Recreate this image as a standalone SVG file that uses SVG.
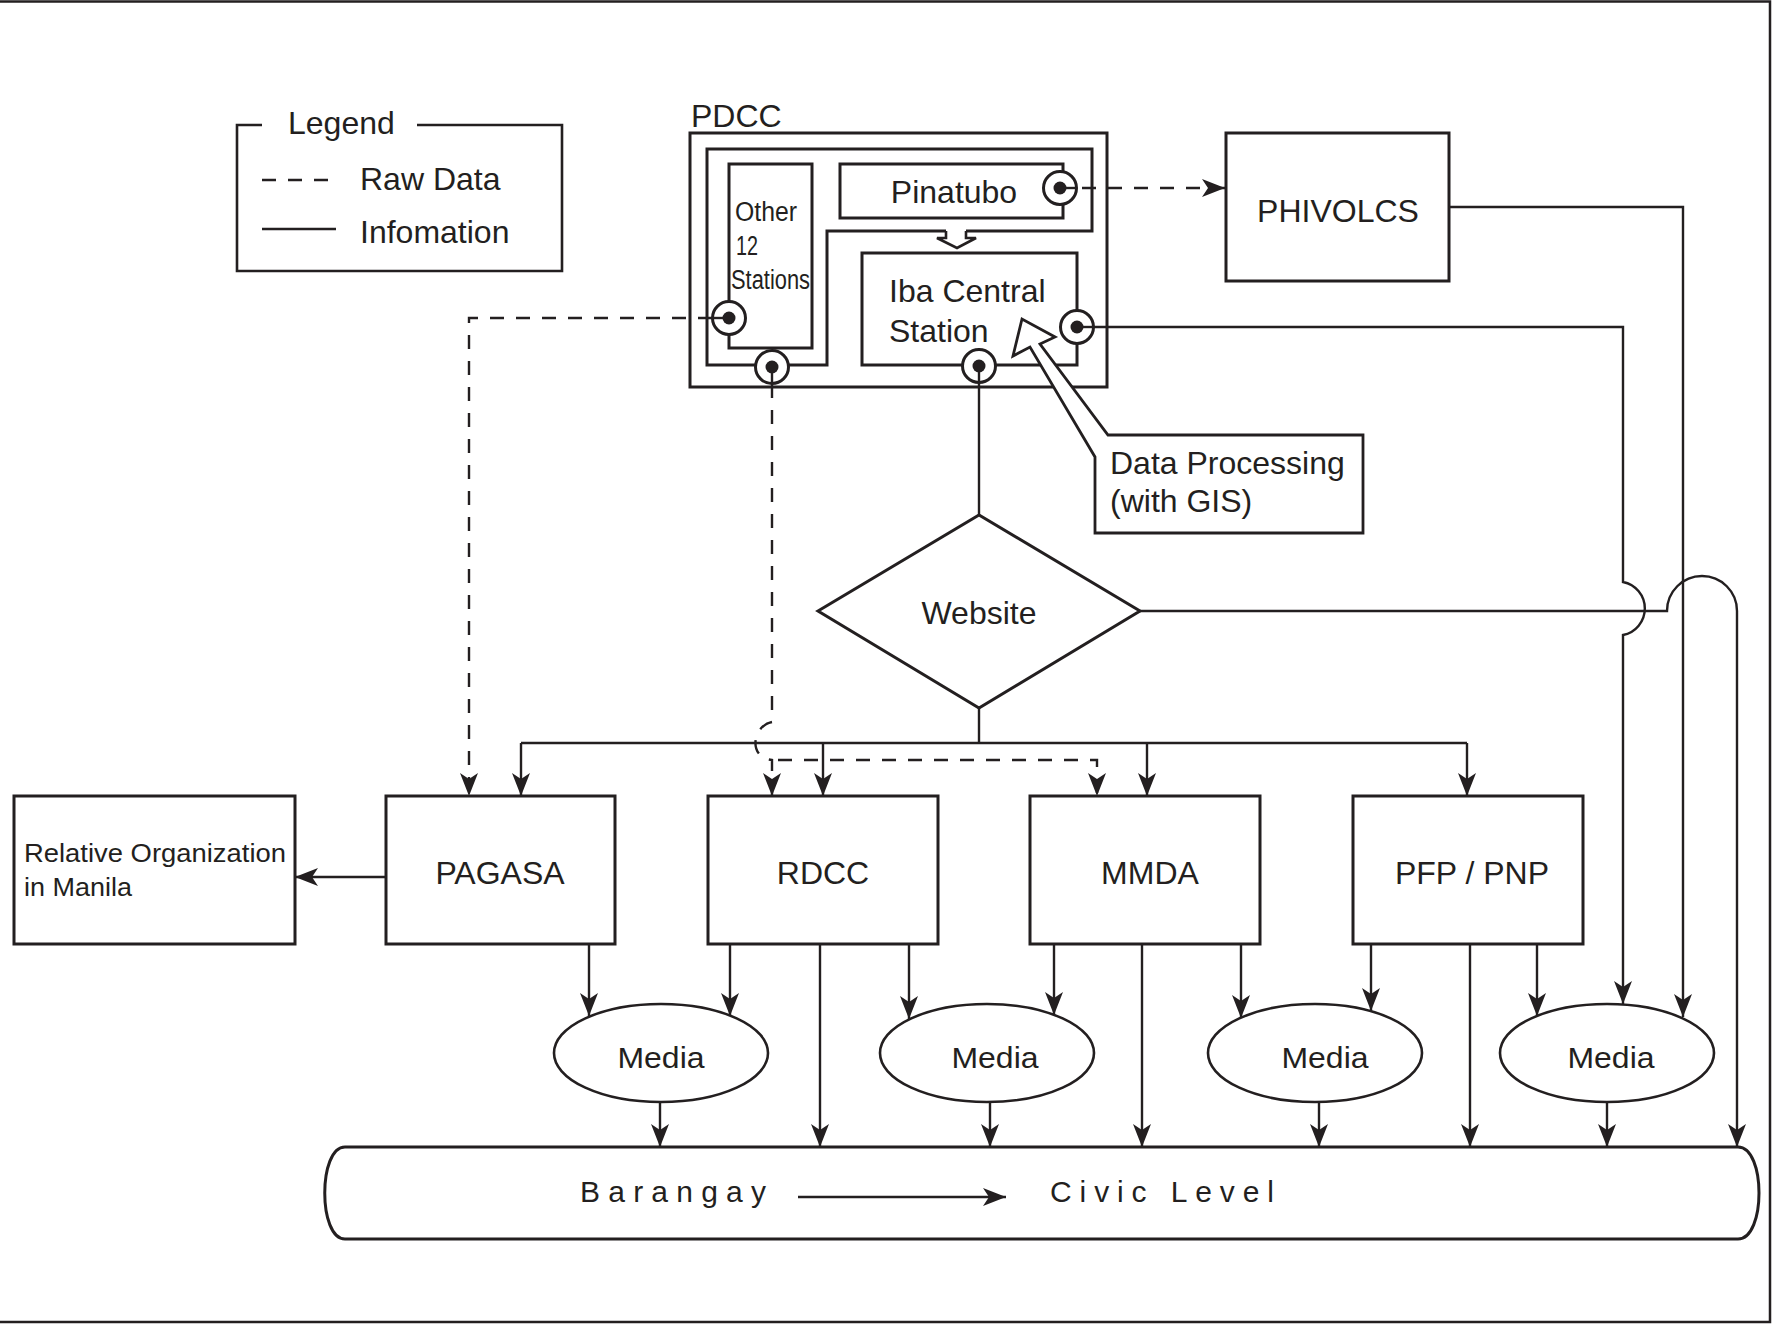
<svg xmlns="http://www.w3.org/2000/svg" width="1775" height="1324" viewBox="0 0 1775 1324">
<defs>
<style>
text{font-family:"Liberation Sans",Arial,Helvetica,sans-serif;fill:#231f20;}
.t{font-size:32px;}
.m{font-size:30px;}
.box{fill:#fff;stroke:#231f20;stroke-width:3;}
.ln{fill:none;stroke:#231f20;stroke-width:2.4;}
.dash{fill:none;stroke:#231f20;stroke-width:2.4;stroke-dasharray:14 12;}
.port{fill:#fff;stroke:#231f20;stroke-width:3;}
.dot{fill:#231f20;}
.stub{stroke:#231f20;stroke-width:2.4;}
</style>
<marker id="ah" markerUnits="userSpaceOnUse" markerWidth="26" markerHeight="20" refX="23" refY="10" orient="auto">
<path d="M0,1 L23,10 L0,19 L6,10 Z" fill="#231f20"/>
</marker>
</defs>
<rect x="0" y="0" width="1775" height="1324" fill="#fff"/>
<path d="M0,1.5 H1770 V1322 H0" fill="none" stroke="#231f20" stroke-width="2.5"/>

<g id="legend">
<path class="ln" d="M262,125 H237 V271 H562 V125 H417" style="stroke-width:2.6"/>
<text class="t" x="288" y="134">Legend</text>
<line class="dash" x1="262" y1="180" x2="330" y2="180"/>
<text class="t" x="360" y="190">Raw Data</text>
<line class="ln" x1="262" y1="229" x2="336" y2="229"/>
<text class="t" x="360" y="243">Infomation</text>
</g>

<g id="connectors">
<!-- Pinatubo -> PHIVOLCS -->
<line class="dash" x1="1082" y1="188" x2="1225" y2="188" marker-end="url(#ah)"/>
<!-- Other stations -> PAGASA -->
<path class="dash" d="M712,318 H469 V796" marker-end="url(#ah)"/>
<!-- Other stations bottom -> RDCC / MMDA -->
<path class="dash" d="M772,384 V722 C752,726 748,758 772,760 V796" marker-end="url(#ah)"/>
<path class="dash" d="M778,760 H1097 V796" marker-end="url(#ah)"/>
<!-- Iba -> Website -->
<line class="ln" x1="979" y1="383" x2="979" y2="515"/>
<!-- Website -> bus -->
<line class="ln" x1="979" y1="708" x2="979" y2="743"/>
<line class="ln" x1="521" y1="743" x2="1467" y2="743"/>
<line class="ln" x1="521" y1="743" x2="521" y2="796" marker-end="url(#ah)"/>
<line class="ln" x1="823" y1="743" x2="823" y2="796" marker-end="url(#ah)"/>
<line class="ln" x1="1147" y1="743" x2="1147" y2="796" marker-end="url(#ah)"/>
<line class="ln" x1="1467" y1="743" x2="1467" y2="796" marker-end="url(#ah)"/>
<!-- Iba right -> Media 4 -->
<path class="ln" d="M1094,327 H1623 V582 A27,27 0 0 1 1623,635 V1004" marker-end="url(#ah)"/>
<!-- PHIVOLCS -> Media 4 -->
<path class="ln" d="M1449,207 H1683 V1017" marker-end="url(#ah)"/>
<!-- Website -> Barangay -->
<path class="ln" d="M1140,611 H1667 A35,35 0 0 1 1737,611 V1147" marker-end="url(#ah)"/>
<!-- PAGASA -> Relative org -->
<line class="ln" x1="386" y1="877" x2="295" y2="877" marker-end="url(#ah)"/>
<!-- boxes -> media -->
<line class="ln" x1="589" y1="944" x2="589" y2="1016" marker-end="url(#ah)"/>
<line class="ln" x1="730" y1="944" x2="730" y2="1016" marker-end="url(#ah)"/>
<line class="ln" x1="909" y1="944" x2="909" y2="1019" marker-end="url(#ah)"/>
<line class="ln" x1="1054" y1="944" x2="1054" y2="1015" marker-end="url(#ah)"/>
<line class="ln" x1="1241" y1="944" x2="1241" y2="1018" marker-end="url(#ah)"/>
<line class="ln" x1="1371" y1="944" x2="1371" y2="1011" marker-end="url(#ah)"/>
<line class="ln" x1="1537" y1="944" x2="1537" y2="1016" marker-end="url(#ah)"/>
<!-- boxes -> barangay -->
<line class="ln" x1="820" y1="944" x2="820" y2="1147" marker-end="url(#ah)"/>
<line class="ln" x1="1142" y1="944" x2="1142" y2="1147" marker-end="url(#ah)"/>
<line class="ln" x1="1470" y1="944" x2="1470" y2="1147" marker-end="url(#ah)"/>
<!-- media -> barangay -->
<line class="ln" x1="660" y1="1102" x2="660" y2="1147" marker-end="url(#ah)"/>
<line class="ln" x1="990" y1="1102" x2="990" y2="1147" marker-end="url(#ah)"/>
<line class="ln" x1="1319" y1="1102" x2="1319" y2="1147" marker-end="url(#ah)"/>
<line class="ln" x1="1607" y1="1102" x2="1607" y2="1147" marker-end="url(#ah)"/>
</g>

<g id="pdcc">
<text class="t" x="691" y="127">PDCC</text>
<rect class="box" x="690" y="133" width="417" height="254" style="fill:none"/>
<path class="ln" style="stroke-width:3" d="M946,231 H827 V365 H707 V149 H1092 V231 H966"/>
<path class="ln" style="stroke-width:2.6" d="M946,231 V238 H937 L957,248 L976,238 H966 V231"/>
</g>

<g id="other-stations">
<rect class="box" x="729" y="164" width="83" height="184"/>
<text class="m" x="735" y="221" textLength="62" lengthAdjust="spacingAndGlyphs" style="font-size:27px">Other</text>
<text class="m" x="736" y="255" textLength="22" lengthAdjust="spacingAndGlyphs" style="font-size:27px">12</text>
<text class="m" x="731" y="289" textLength="79" lengthAdjust="spacingAndGlyphs" style="font-size:27px">Stations</text>
</g>

<g id="pinatubo">
<rect class="box" x="840" y="164" width="223" height="54"/>
<text class="t" x="954" y="203" text-anchor="middle">Pinatubo</text>
</g>

<g id="iba">
<rect class="box" x="862" y="253" width="215" height="112"/>
<text class="t" x="889" y="302">Iba Central</text>
<text class="t" x="889" y="342">Station</text>
</g>

<g id="ports">
<circle class="port" cx="1060" cy="188" r="16.5"/><circle class="dot" cx="1060" cy="188" r="6.5"/><line class="stub" x1="1060" y1="188" x2="1077" y2="188"/>
<circle class="port" cx="729" cy="318" r="16.5"/><circle class="dot" cx="729" cy="318" r="6.5"/><line class="stub" x1="729" y1="318" x2="712" y2="318"/>
<circle class="port" cx="772" cy="367" r="16.5"/><circle class="dot" cx="772" cy="367" r="6.5"/><line class="stub" x1="772" y1="367" x2="772" y2="384"/>
<circle class="port" cx="979" cy="366" r="16.5"/><circle class="dot" cx="979" cy="366" r="6.5"/><line class="stub" x1="979" y1="366" x2="979" y2="383"/>
<circle class="port" cx="1077" cy="327" r="16.5"/><circle class="dot" cx="1077" cy="327" r="6.5"/><line class="stub" x1="1077" y1="327" x2="1094" y2="327"/>
</g>

<g id="data-processing">
<path class="box" style="stroke-width:2.8" d="M1108,435 H1363 V533 H1095 V457 L1030,347 L1013,356 L1022,319 L1055,337 L1040,344 Z"/>
<text class="t" x="1110" y="474">Data Processing</text>
<text class="t" x="1110" y="512">(with GIS)</text>
</g>

<g id="phivolcs">
<rect class="box" x="1226" y="133" width="223" height="148"/>
<text class="t" x="1338" y="222" text-anchor="middle">PHIVOLCS</text>
</g>

<g id="website">
<polygon class="box" points="818,611 979,515 1140,611 979,708"/>
<text class="t" x="979" y="624" text-anchor="middle">Website</text>
</g>

<g id="relative-org">
<rect class="box" x="14" y="796" width="281" height="148"/>
<text class="m" x="24" y="862" textLength="262" lengthAdjust="spacingAndGlyphs" style="font-size:26px">Relative Organization</text>
<text class="m" x="24" y="896" textLength="108" lengthAdjust="spacingAndGlyphs" style="font-size:26px">in Manila</text>
</g>

<g id="pagasa">
<rect class="box" x="386" y="796" width="229" height="148"/>
<text class="t" x="500" y="884" text-anchor="middle">PAGASA</text>
</g>
<g id="rdcc">
<rect class="box" x="708" y="796" width="230" height="148"/>
<text class="t" x="823" y="884" text-anchor="middle">RDCC</text>
</g>
<g id="mmda">
<rect class="box" x="1030" y="796" width="230" height="148"/>
<text class="t" x="1150" y="884" text-anchor="middle">MMDA</text>
</g>
<g id="pfp-pnp">
<rect class="box" x="1353" y="796" width="230" height="148"/>
<text class="t" x="1472" y="884" text-anchor="middle">PFP / PNP</text>
</g>

<g id="media-1">
<ellipse class="box" cx="661" cy="1053" rx="107" ry="49" style="stroke-width:2.6"/>
<text class="m" x="661" y="1068" text-anchor="middle" textLength="87" lengthAdjust="spacingAndGlyphs">Media</text>
</g>
<g id="media-2">
<ellipse class="box" cx="987" cy="1053" rx="107" ry="49" style="stroke-width:2.6"/>
<text class="m" x="995" y="1068" text-anchor="middle" textLength="87" lengthAdjust="spacingAndGlyphs">Media</text>
</g>
<g id="media-3">
<ellipse class="box" cx="1315" cy="1053" rx="107" ry="49" style="stroke-width:2.6"/>
<text class="m" x="1325" y="1068" text-anchor="middle" textLength="87" lengthAdjust="spacingAndGlyphs">Media</text>
</g>
<g id="media-4">
<ellipse class="box" cx="1607" cy="1053" rx="107" ry="49" style="stroke-width:2.6"/>
<text class="m" x="1611" y="1068" text-anchor="middle" textLength="87" lengthAdjust="spacingAndGlyphs">Media</text>
</g>

<g id="barangay">
<path class="box" d="M345,1147 H1738 C1766,1147 1766,1239 1738,1239 H345 C318,1239 318,1147 345,1147 Z"/>
<text class="m" x="580" y="1202" textLength="186" lengthAdjust="spacing">Barangay</text>
<line class="ln" x1="798" y1="1197" x2="1006" y2="1197" marker-end="url(#ah)"/>
<text class="m" x="1050" y="1202" textLength="224" lengthAdjust="spacing">Civic Level</text>
</g>
</svg>
